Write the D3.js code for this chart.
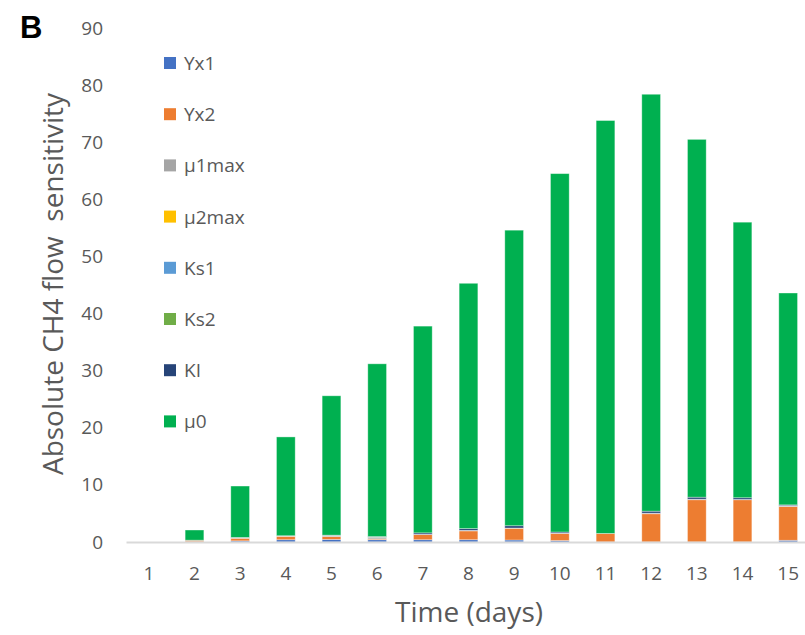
<!DOCTYPE html>
<html>
<head>
<meta charset="utf-8">
<script src="https://cdn.jsdelivr.net/npm/d3@7/dist/d3.min.js"></script>
<style>
  html, body { margin: 0; padding: 0; background: #fff; }
  svg { display: block; font-family: "Open Sans", Lato, sans-serif; }
</style>
</head>
<body>
<svg id="chart" width="805" height="635"></svg>
<script>
// Days on the x axis
const days = [1, 2, 3, 4, 5, 6, 7, 8, 9, 10, 11, 12, 13, 14, 15];

// Parameter names, stacked bottom to top
const params = ["Yx1", "Yx2", "μ1max", "μ2max", "Ks1", "Ks2", "KI", "μ0"];
const paramColors = ["#4472C4", "#ED7D31", "#A5A5A5", "#FFC000", "#5B9BD5", "#70AD47", "#264478", "#00B050"];

// Absolute sensitivity contribution of each parameter per day
const Yx1   = [0, 0.05, 0.20, 0.40, 0.45, 0.40, 0.40, 0.40, 0.35, 0.25, 0.00, 0.00, 0.00, 0.00, 0.30];
const Yx2   = [0, 0.25, 0.45, 0.60, 0.50, 0.15, 0.90, 1.55, 2.05, 1.25, 1.50, 4.95, 7.40, 7.40, 5.90];
const mu1max= [0, 0.00, 0.10, 0.05, 0.15, 0.25, 0.05, 0.10, 0.05, 0.05, 0.00, 0.10, 0.10, 0.05, 0.15];
const mu2max= [0, 0, 0, 0, 0, 0, 0, 0, 0, 0, 0, 0, 0, 0, 0];
const Ks1   = [0, 0, 0, 0, 0, 0, 0, 0, 0, 0, 0, 0, 0, 0, 0];
const Ks2   = [0, 0.00, 0.00, 0.00, 0.05, 0.05, 0.00, 0.00, 0.00, 0.00, 0.00, 0.00, 0.00, 0.00, 0.00];
const KI    = [0, 0.02, 0.05, 0.05, 0.05, 0.10, 0.25, 0.30, 0.40, 0.20, 0.00, 0.35, 0.35, 0.30, 0.15];
const mu0   = [0, 1.78, 9.00, 17.30, 24.40, 30.25, 36.20, 42.95, 51.75, 62.75, 72.30, 73.00, 62.65, 48.25, 37.10];

// Y axis ticks
const yTicks = [0, 10, 20, 30, 40, 50, 60, 70, 80, 90];

const seriesValues = [Yx1, Yx2, mu1max, mu2max, Ks1, Ks2, KI, mu0];
const rows = days.map((d, i) => {
  const r = { day: d };
  params.forEach((p, j) => { r[p] = seriesValues[j][i]; });
  return r;
});

const svg = d3.select("#chart");
const plotLeft = 126, plotRight = 811, plotTop = 28, plotBottom = 542;

const x = d3.scaleBand().domain(days).range([plotLeft, plotRight]).paddingInner(0.59).paddingOuter(0.295);
const y = d3.scaleLinear().domain([0, 90]).range([plotBottom, plotTop]);

const layers = d3.stack().keys(params)(rows);

const textColor = "#595959";
const font = "'Open Sans', Lato, sans-serif";

// Stacked bars
svg.append("g")
  .selectAll("g")
  .data(layers)
  .join("g")
  .attr("fill", (d, i) => paramColors[i])
  .selectAll("rect")
  .data(d => d)
  .join("rect")
  .attr("x", d => x(d.data.day))
  .attr("width", x.bandwidth())
  .attr("y", d => y(d[1]))
  .attr("height", d => Math.max(0, y(d[0]) - y(d[1])))
  .attr("stroke", "rgba(255,255,255,0.45)")
  .attr("stroke-width", d => (y(d[0]) - y(d[1])) > 0.01 ? 0.8 : 0);

// X axis line and day labels
const xAxis = svg.append("g")
  .attr("transform", `translate(0,${plotBottom})`)
  .call(d3.axisBottom(x).tickSize(0).tickPadding(25));
xAxis.select(".domain").attr("stroke", "#D9D9D9").attr("stroke-width", 2);
xAxis.selectAll("text")
  .attr("fill", textColor)
  .style("font-size", "19px")
  .style("font-family", font);

// Y axis tick labels (no axis line)
const yAxis = svg.append("g")
  .attr("transform", `translate(${plotLeft},0)`)
  .call(d3.axisLeft(y).tickValues(yTicks).tickSize(0).tickPadding(23));
yAxis.select(".domain").remove();
yAxis.selectAll("text")
  .attr("fill", textColor)
  .style("font-size", "19px")
  .style("font-family", font);

// Axis titles
svg.append("text")
  .attr("x", 469)
  .attr("y", 622)
  .attr("text-anchor", "middle")
  .attr("fill", textColor)
  .style("font-size", "28px")
  .text("Time (days)");

svg.append("text")
  .attr("transform", "translate(63,284) rotate(-90)")
  .attr("text-anchor", "middle")
  .attr("fill", textColor)
  .style("font-size", "28px")
  .style("white-space", "pre")
  .attr("xml:space", "preserve")
  .text("Absolute CH4 flow  sensitivity");

// Panel letter
svg.append("text")
  .attr("x", 20)
  .attr("y", 38)
  .attr("fill", "#000")
  .style("font-size", "31px")
  .style("font-weight", "bold")
  .style("font-family", "'Liberation Sans', Arial, sans-serif")
  .text("B");

// Legend
const legendItems = svg.append("g").selectAll("g")
  .data(params)
  .join("g")
  .attr("transform", (d, i) => `translate(164,${63 + i * 51.2})`);
legendItems.append("rect")
  .attr("x", 0).attr("y", -6)
  .attr("width", 12).attr("height", 12)
  .attr("fill", (d, i) => paramColors[i]);
legendItems.append("text")
  .attr("x", 20)
  .attr("y", 7)
  .attr("fill", textColor)
  .style("font-size", "19px")
  .text(d => d);
</script>
</body>
</html>
